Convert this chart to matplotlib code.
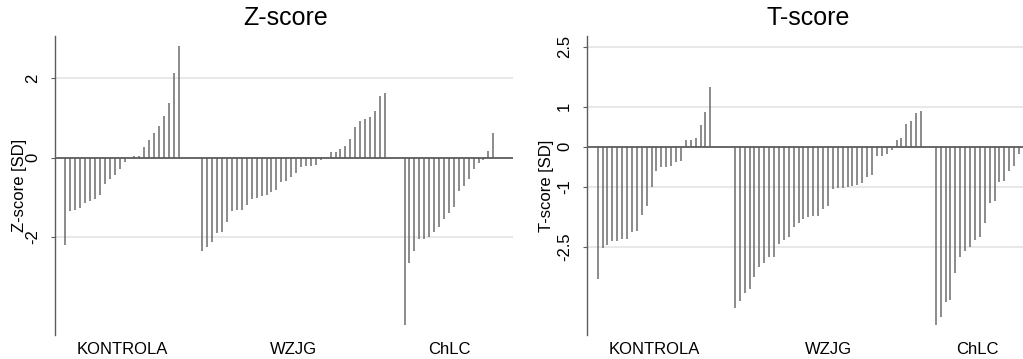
import numpy as np
import matplotlib
matplotlib.use("Agg")
import matplotlib.pyplot as plt

plt.rcParams['font.family'] = ['Liberation Sans', 'DejaVu Sans']

groups = ["KONTROLA", "WZJG", "ChLC"]

# Z-score per patient, sorted inside each group
kontrola_z = [-2.22, -1.36, -1.33, -1.27, -1.14, -1.10, -1.04, -0.95, -0.66, -0.53, -0.45, -0.29,
              -0.12, 0.0, 0.04, 0.04, 0.26, 0.45, 0.62, 0.79, 1.06, 1.39, 2.13, 2.81]
wzjg_z = [-2.36, -2.27, -2.14, -1.90, -1.88, -1.62, -1.35, -1.33, -1.33, -1.19, -1.04, -1.01, -0.98,
          -0.95, -0.87, -0.82, -0.62, -0.60, -0.49, -0.40, -0.24, -0.22, -0.21, -0.19, -0.07, 0.0,
          0.13, 0.15, 0.22, 0.30, 0.48, 0.77, 0.93, 0.98, 1.03, 1.18, 1.56, 1.64]
chlc_z = [-4.23, -2.65, -2.37, -2.06, -2.05, -2.01, -1.88, -1.76, -1.54, -1.40, -1.26, -0.84, -0.72,
          -0.54, -0.30, -0.13, -0.07, 0.17, 0.62]

# T-score per patient
kontrola_t = [-3.32, -2.54, -2.47, -2.37, -2.35, -2.32, -2.31, -2.14, -2.10, -1.72, -1.49, -1.00,
              -0.62, -0.52, -0.50, -0.48, -0.38, -0.37, 0.16, 0.18, 0.22, 0.55, 0.87, 1.49]
wzjg_t = [-4.04, -3.87, -3.67, -3.57, -3.27, -3.02, -2.90, -2.77, -2.75, -2.44, -2.34, -2.25, -2.02,
          -1.90, -1.80, -1.75, -1.74, -1.74, -1.55, -1.48, -1.05, -1.04, -1.03, -1.00, -0.98, -0.97,
          -0.92, -0.75, -0.70, -0.24, -0.24, -0.19, -0.08, 0.17, 0.21, 0.56, 0.64, 0.85, 0.89]
chlc_t = [-4.46, -4.27, -3.88, -3.84, -3.15, -2.77, -2.61, -2.52, -2.33, -2.27, -1.92, -1.40, -1.37,
          -0.89, -0.87, -0.62, -0.48, -0.19]

z_ticks = [-2, 0, 2]
z_ticklabels = ["-2", "0", "2"]
t_ticks = [-2.5, -1, 0, 1, 2.5]
t_ticklabels = ["-2.5", "-1", "0", "1", "2.5"]

bar_col = '#6c6c6c'
axis_col = '#5c5c5c'
grid_col = '#e4e4e4'


def spike_panel(ax, series, gaps, ticks, ticklabels, ylabel, ylim, xlim, lab_pad, lab_x):
    # positions: consecutive slots inside a group, a gap between groups
    centers = []
    start = 0.0
    for i, vals in enumerate(series):
        x = start + np.arange(len(vals))
        ax.vlines(x, 0, vals, color=bar_col, linewidth=1.1)
        centers.append(x.mean())
        if i < len(gaps):
            start = x[-1] + gaps[i]
    for t in ticks:
        if t != 0:
            ax.axhline(t, color=grid_col, linewidth=1.2, zorder=0)
    ax.axhline(0, color=axis_col, linewidth=1.3, zorder=3)

    ax.set_xlim(xlim)
    ax.set_ylim(ylim)
    ax.set_xticks(centers)
    ax.set_xticklabels(groups, fontsize=12)
    ax.tick_params(axis='x', length=0, pad=5)
    ax.set_yticks(ticks)
    ax.set_yticklabels(ticklabels, rotation=90, va='center', fontsize=12)
    ax.tick_params(axis='y', length=3, width=0.8, color=axis_col, pad=lab_pad)
    ax.set_ylabel(ylabel, fontsize=12, va='center')
    ax.yaxis.set_label_coords(lab_x, 0.5)

    for s in ['top', 'right', 'bottom']:
        ax.spines[s].set_visible(False)
    ax.spines['left'].set_color(axis_col)
    ax.spines['left'].set_linewidth(1.0)


fig = plt.figure(figsize=(10.23, 3.59), dpi=100)
ax1 = fig.add_axes([0.0541, 0.0669, 0.4474, 0.8329])
ax2 = fig.add_axes([0.5741, 0.0669, 0.4259, 0.8329])

spike_panel(ax1, [kontrola_z, wzjg_z, chlc_z], (4.8, 4.0), z_ticks, z_ticklabels,
            "Z-score [SD]", (-4.48, 3.07), (-2.03, 90.8), 8, -0.079)
spike_panel(ax2, [kontrola_t, wzjg_t, chlc_t], (5.0, 3.0), t_ticks, t_ticklabels,
            "T-score [SD]", (-4.71, 2.77), (-2.12, 86.8), 8, -0.094)

fig.text(286 / 1023, 1 - 18 / 359, "Z-score", ha='center', va='center', fontsize=18)
fig.text(808 / 1023, 1 - 18 / 359, "T-score", ha='center', va='center', fontsize=18)

fig.savefig("out.png", dpi=100)
